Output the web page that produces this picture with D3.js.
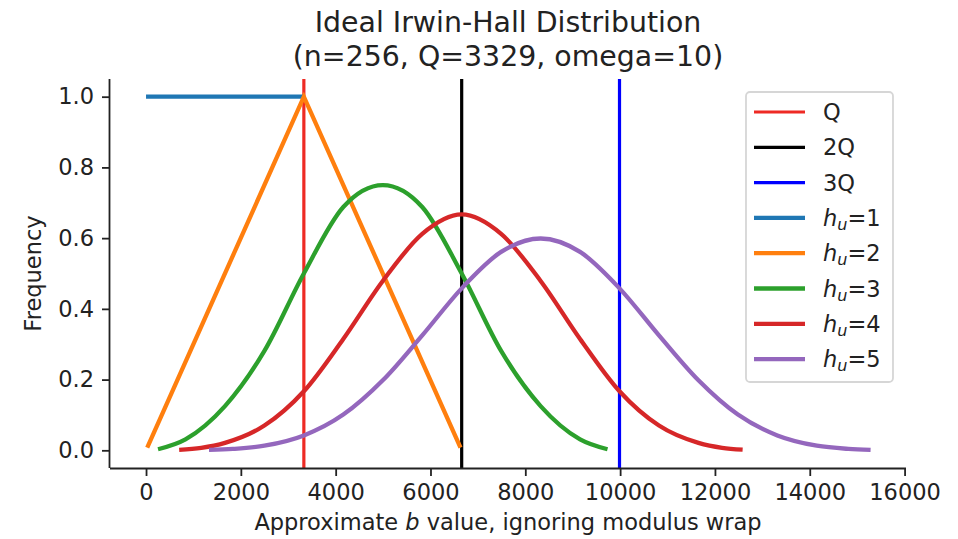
<!DOCTYPE html>
<html>
<head>
<meta charset="utf-8">
<script src="https://cdn.jsdelivr.net/npm/d3@7"></script>
<style>
body { margin: 0; background: #fff; }
text { font-family: "DejaVu Sans", sans-serif; fill: #222; }
</style>
</head>
<body>
<svg id="chart" width="958" height="539"></svg>
<script>
// values
var xTicks = [0, 2000, 4000, 6000, 8000, 10000, 12000, 14000, 16000];
var yTicks = [0.0, 0.2, 0.4, 0.6, 0.8, 1.0];
var vLines = [3329, 6658, 9987];
var vNames = ["Q", "2Q", "3Q"];
var vColors = ["#ee2a24", "#000000", "#0000ff"];

var hu1X = [0, 3329];
var hu1Y = [1, 1];
var hu2X = [25, 3329, 6633];
var hu2Y = [0.0075, 1.0, 0.0075];
var hu3X = [253, 832, 1665, 2497, 3329, 4161, 4994, 5826, 6658, 7490, 8323, 9155, 9734];
var hu3Y = [0.003, 0.031, 0.125, 0.281, 0.5, 0.688, 0.75, 0.688, 0.5, 0.281, 0.125, 0.031, 0.003];
var hu4X = [699, 1165, 1665, 2497, 3329, 4161, 4994, 5826, 6658, 7490, 8323, 9155, 9987, 10819, 11652, 12151, 12584];
var hu4Y = [0.0015, 0.007, 0.021, 0.070, 0.167, 0.315, 0.479, 0.612, 0.667, 0.612, 0.479, 0.315, 0.167, 0.070, 0.021, 0.007, 0.0018];
var hu5X = [1328, 1831, 2497, 3329, 4161, 4994, 5826, 6658, 7490, 8323, 9155, 9987, 10819, 11652, 12484, 13316, 14148, 14815, 15283];
var hu5Y = [0.001, 0.004, 0.013, 0.042, 0.101, 0.198, 0.325, 0.458, 0.561, 0.599, 0.561, 0.458, 0.325, 0.198, 0.101, 0.042, 0.013, 0.004, 0.001];

var series = [
  {n: 1, xs: hu1X, ys: hu1Y, color: "#1f77b4", curve: d3.curveLinear},
  {n: 2, xs: hu2X, ys: hu2Y, color: "#ff7f0e", curve: d3.curveLinear},
  {n: 3, xs: hu3X, ys: hu3Y, color: "#2ca02c", curve: d3.curveMonotoneX},
  {n: 4, xs: hu4X, ys: hu4Y, color: "#d62728", curve: d3.curveMonotoneX},
  {n: 5, xs: hu5X, ys: hu5Y, color: "#9467bd", curve: d3.curveMonotoneX}
];

var pLeft = 110, pRight = 906, pTop = 79, pBottom = 468;
var fs = 22.5;

var x = d3.scaleLinear().domain([-760, 16030]).range([pLeft, pRight]);
var y = d3.scaleLinear().domain([-0.05, 1.05]).range([pBottom, pTop]);

var svg = d3.select("#chart");

// vertical reference lines
svg.append("g").selectAll("line")
  .data(vLines)
  .enter().append("line")
  .attr("x1", d => x(d)).attr("x2", d => x(d))
  .attr("y1", pTop).attr("y2", pBottom)
  .attr("stroke", (d, i) => vColors[i])
  .attr("stroke-width", 3.2);

// curves
series.forEach(function(s) {
  var pts = s.xs.map((v, i) => [v, s.ys[i]]);
  svg.append("path")
    .datum(pts)
    .attr("fill", "none")
    .attr("stroke", s.color)
    .attr("stroke-width", 4.3)
    .attr("d", d3.line().x(d => x(d[0])).y(d => y(d[1])).curve(s.curve));
});

// axes
var gx = svg.append("g")
  .attr("transform", "translate(0," + pBottom + ")")
  .call(d3.axisBottom(x).tickValues(xTicks).tickFormat(d3.format("d")).tickSize(8).tickPadding(8).tickSizeOuter(0));
var gy = svg.append("g")
  .attr("transform", "translate(" + pLeft + ",0)")
  .call(d3.axisLeft(y).tickValues(yTicks).tickFormat(d3.format(".1f")).tickSize(8).tickPadding(8).tickSizeOuter(0));
[gx, gy].forEach(function(g) {
  g.selectAll("text").style("font-size", fs + "px").style("font-family", "DejaVu Sans").attr("fill", "#222");
  g.selectAll("line").attr("stroke", "#222").attr("stroke-width", 1.8);
  g.select(".domain").attr("stroke", "#222").attr("stroke-width", 1.8);
});
gx.select(".domain").attr("d", "M" + pLeft + ",0.5H" + pRight);
gy.select(".domain").attr("d", "M-0.5," + pTop + "V" + pBottom);

// title
svg.append("text").attr("x", 508).attr("y", 32).attr("text-anchor", "middle")
  .style("font-size", "28.4px").text("Ideal Irwin-Hall Distribution");
svg.append("text").attr("x", 508).attr("y", 66).attr("text-anchor", "middle")
  .style("font-size", "28.4px").text("(n=256, Q=3329, omega=10)");

// axis labels
var xl = svg.append("text").attr("x", 508).attr("y", 530).attr("text-anchor", "middle")
  .style("font-size", fs + "px");
xl.append("tspan").text("Approximate ");
xl.append("tspan").style("font-style", "italic").text("b");
xl.append("tspan").text(" value, ignoring modulus wrap");

svg.append("text")
  .attr("transform", "translate(41," + ((pTop + pBottom) / 2) + ") rotate(-90)")
  .attr("text-anchor", "middle")
  .style("font-size", fs + "px").text("Frequency");

// legend
var legend = svg.append("g");
legend.append("rect")
  .attr("x", 746).attr("y", 92).attr("width", 147).attr("height", 290)
  .attr("rx", 4).attr("fill", "#fff").attr("fill-opacity", 0.8)
  .attr("stroke", "#d6d6d6").attr("stroke-width", 1.8);

var entries = vNames.map((nm, i) => ({label: nm, color: vColors[i], w: 3.2, sub: false}))
  .concat(series.map(s => ({label: s.n, color: s.color, w: 4.3, sub: true})));

var rows = legend.selectAll("g.row")
  .data(entries)
  .enter().append("g").attr("class", "row")
  .attr("transform", (d, i) => "translate(0," + (112 + i * 35.3) + ")");
rows.append("line")
  .attr("x1", 754).attr("x2", 805)
  .attr("stroke", d => d.color).attr("stroke-width", d => d.w);
rows.each(function(d) {
  var t = d3.select(this).append("text").attr("x", 823).attr("y", 8).style("font-size", fs + "px");
  if (d.sub) {
    t.append("tspan").style("font-style", "italic").text("h");
    t.append("tspan").style("font-style", "italic").style("font-size", "16px").attr("dy", 4).text("u");
    t.append("tspan").attr("dy", -4).text("=" + d.label);
  } else {
    t.text(d.label);
  }
});
</script>
</body>
</html>
